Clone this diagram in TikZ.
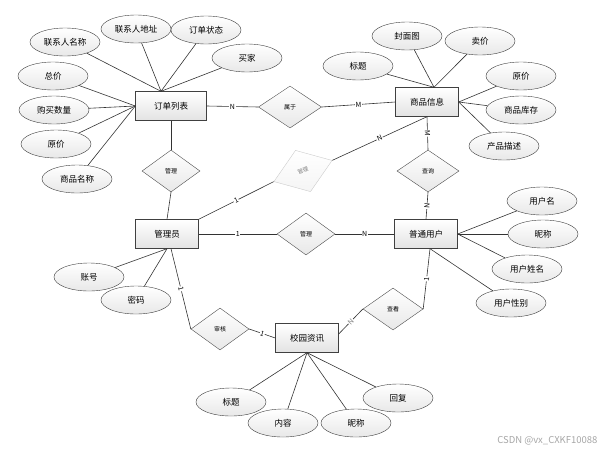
\documentclass[tikz,border=0pt]{standalone}
\usepackage{fontspec}
\setmainfont{Noto Sans CJK SC}
\usetikzlibrary{shapes.geometric}

\begin{document}
\begin{tikzpicture}[x=1pt,y=-1pt]
\tikzset{entity/.style = {shape=rectangle,draw=black!75,top color=white,bottom color=gray!22,minimum width=63pt,minimum height=29pt,inner sep=0pt,font=\fontsize{8.5}{10}\selectfont}}
\tikzset{attr/.style = {shape=ellipse,draw=black!75,top color=white,bottom color=gray!18,minimum width=70pt,minimum height=28pt,inner sep=0pt,font=\fontsize{8.5}{10}\selectfont}}
\tikzset{rel/.style = {shape=diamond,draw=black!70,top color=white,bottom color=gray!18,minimum width=58pt,minimum height=42pt,inner sep=0pt,font=\fontsize{6}{7}\selectfont}}
\tikzset{edge/.style = {-,draw=black!80,line width=0.6pt}}
\tikzset{card/.style = {fill=white,inner sep=0.6pt,font=\fontsize{7}{8}\selectfont}}
\useasboundingbox (0,0) rectangle (609,453);

% entities
\node[entity,minimum width=71pt] (ddlb) at (171,106) {订单列表};
\node[entity] (spxx) at (427,102) {商品信息};
\node[entity] (gly) at (167,234) {管理员};
\node[entity] (ptyh) at (426,234) {普通用户};
\node[entity] (xyzx) at (307,338) {校园资讯};

% relations
\node[rel,minimum width=63pt] (sy) at (290,107) {属于};
\node[rel] (gl1) at (171,171) {管理};
\node[rel,draw=gray!40,text=gray,bottom color=gray!8,rotate=20,minimum width=62pt,minimum height=44pt,font=\fontsize{5.5}{6}\selectfont] (gl2) at (303,171) {管理};
\node[rel] (gl3) at (306,234) {管理};
\node[rel,minimum width=62pt] (cx) at (428,171) {查询};
\node[rel] (sh) at (220,329) {审核};
\node[rel,minimum width=60pt] (ck) at (393,309) {查看};

% attributes
\node[attr] (lxrmc) at (65,42) {联系人名称};
\node[attr] (lxrdz) at (136,29) {联系人地址};
\node[attr] (ddzt) at (206,30) {订单状态};
\node[attr] (mj) at (247,58) {买家};
\node[attr] (zj) at (53,76) {总价};
\node[attr] (gmsl) at (54,110) {购买数量};
\node[attr] (yj1) at (56,144) {原价};
\node[attr] (spmc) at (77,179) {商品名称};

\node[attr] (fmt) at (407,36) {封面图};
\node[attr] (mj2) at (480,41) {卖价};
\node[attr] (bt1) at (358,66) {标题};
\node[attr] (yj2) at (521,76) {原价};
\node[attr] (spkc) at (521,110) {商品库存};
\node[attr] (cpms) at (504,146) {产品描述};

\node[attr] (yhm) at (542,201) {用户名};
\node[attr] (nc1) at (543,234) {昵称};
\node[attr] (yhxm) at (527,269) {用户姓名};
\node[attr] (yhxb) at (511,303) {用户性别};

\node[attr] (zh) at (89,277) {账号};
\node[attr] (mm) at (136,300) {密码};

\node[attr] (bt2) at (231,402) {标题};
\node[attr] (nr) at (283,423) {内容};
\node[attr] (nc2) at (356,423) {昵称};
\node[attr] (hf) at (398,398) {回复};

\node[text=gray!70,font=\fontsize{9.5}{11}\selectfont,anchor=east] (wm) at (601,441) {CSDN @vx\_CXKF10088};

% attribute links
\draw[edge] (lxrmc) to ([xshift=-10pt]ddlb.north);
\draw[edge] (lxrdz) to ([xshift=-10pt]ddlb.north);
\draw[edge] (ddzt) to ([xshift=-10pt]ddlb.north);
\draw[edge] (mj) to ([xshift=-10pt]ddlb.north);
\draw[edge] (zj) to (ddlb.west);
\draw[edge] (gmsl) to (ddlb.west);
\draw[edge] (yj1) to (ddlb.west);
\draw[edge] (spmc) to (ddlb.west);

\draw[edge] (fmt) to ([xshift=7pt]spxx.north);
\draw[edge] (mj2) to ([xshift=7pt]spxx.north);
\draw[edge] (bt1) to ([xshift=7pt]spxx.north);
\draw[edge] (yj2) to (spxx.east);
\draw[edge] (spkc) to (spxx.east);
\draw[edge] (cpms) to (spxx.east);

\draw[edge] (yhm) to (ptyh.east);
\draw[edge] (nc1) to (ptyh.east);
\draw[edge] (yhxm) to (ptyh.east);
\draw[edge] (yhxb) to ([xshift=4pt]ptyh.south);

\draw[edge] (zh) to (gly.south);
\draw[edge] (mm) to (gly.south);

\draw[edge] (bt2) to (xyzx.south);
\draw[edge] (nr) to (xyzx.south);
\draw[edge] (nc2) to (xyzx.south);
\draw[edge] (hf) to (xyzx.south);

% relation links
\draw[edge] (ddlb.east) to node[card] {N} (sy.west);
\draw[edge] (sy.east) to node[card] {M} (spxx.west);
\draw[edge] (ddlb.south) to (gl1.north);
\draw[edge] (gl1.south) to (gly.north);
\draw[edge] (gly.north east) to node[card,sloped] {1} (gl2.west);
\draw[edge] (gl2.east) to node[card,sloped] {N} (spxx.south);
\draw[edge] (spxx.south) to node[card,sloped] {M} (cx.north);
\draw[edge] (cx.south) to node[card,sloped] {N} (ptyh.north);
\draw[edge] (gly.east) to node[card] {1} (gl3.west);
\draw[edge] (gl3.east) to node[card] {N} (ptyh.west);
\draw[edge] ([xshift=4pt]gly.south) to node[card,sloped] {1} (sh.west);
\draw[edge] (sh.east) to node[card,sloped] {1} (xyzx.west);
\draw[edge] ([yshift=4pt]xyzx.east) to node[card,sloped,text=gray] {N} (ck.west);
\draw[edge] (ck.east) to node[card,sloped] {1} ([xshift=4pt]ptyh.south);
\end{tikzpicture}
\end{document}
